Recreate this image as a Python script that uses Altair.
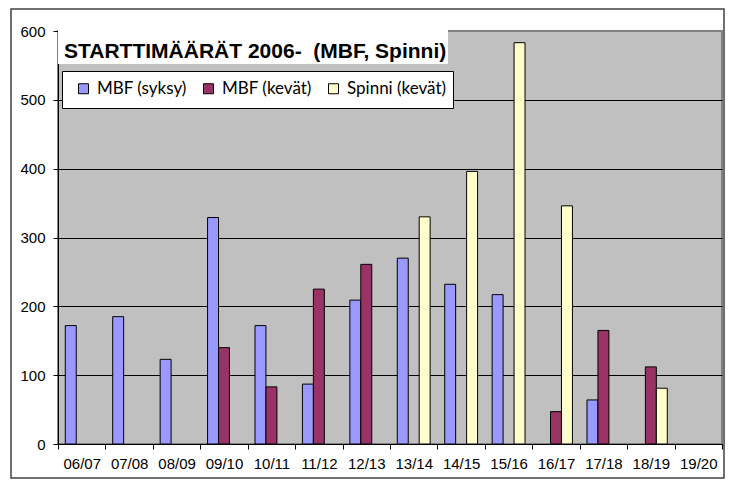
import altair as alt
import pandas as pd

categories = ["06/07", "07/08", "08/09", "09/10", "10/11", "11/12", "12/13",
              "13/14", "14/15", "15/16", "16/17", "17/18", "18/19", "19/20"]
syksy = [172, 185, 123, 329, 172, 87, 209, 270, 232, 217, None, 64, None, None]
kevat = [None, None, None, 140, 83, 225, 261, None, None, None, 47, 165, 112, None]
spinni = [None, None, None, None, None, None, None, 330, 396, 583, 346, None, 81, None]
series_names = ["MBF (syksy)", "MBF (kevät)", "Spinni (kevät)"]
series_colors = ["#9999FF", "#993366", "#FFFFCC"]
y_ticks = [0, 100, 200, 300, 400, 500, 600]
title_text = "STARTTIMÄÄRÄT 2006-\u00a0 (MBF, Spinni)"

rows = []
for name, vals in zip(series_names, [syksy, kevat, spinni]):
    for c, v in zip(categories, vals):
        if v is not None:
            rows.append({"kausi": c, "sarja": name, "arvo": v})
df = pd.DataFrame(rows)

W, H = 664, 413
FONT = "Liberation Sans, Arial, sans-serif"

bars = alt.Chart(df).mark_bar(stroke="black", strokeWidth=1).encode(
    x=alt.X("kausi:N", sort=categories,
            scale=alt.Scale(domain=categories, paddingInner=0, paddingOuter=0),
            axis=alt.Axis(title=None, labelAngle=0, tickBand="extent", tickSize=5,
                          tickColor="black", domainColor="black", labelFont=FONT,
                          labelFontSize=15, labelColor="black", labelPadding=7,
                          grid=False)),
    xOffset=alt.XOffset("sarja:N", sort=series_names,
                        scale=alt.Scale(domain=series_names, paddingInner=0, paddingOuter=0.665)),
    y=alt.Y("arvo:Q", scale=alt.Scale(domain=[0, 600], nice=False),
            axis=alt.Axis(title=None, values=y_ticks, tickSize=5, tickColor="black",
                          domainColor="black", labelFont=FONT, labelFontSize=15,
                          labelColor="black", labelPadding=8, grid=True,
                          gridColor={"condition": {"test": "datum.value === 600", "value": "#808080"},
                                     "value": "black"},
                          gridWidth=1)),
    color=alt.Color("sarja:N", sort=series_names,
                    scale=alt.Scale(domain=series_names, range=series_colors),
                    legend=alt.Legend(title=None, orient="none", legendX=17, legendY=49,
                                      direction="horizontal", symbolType="square",
                                      symbolSize=100, symbolStrokeColor="black",
                                      symbolStrokeWidth=1, symbolOpacity=1,
                                      labelFont="Lato", labelFontSize=17, labelColor="black",
                                      labelOffset=5, columnPadding=13, padding=0)),
)

one = alt.Data(values=[{}])

title_bg = alt.Chart(one).mark_rect(fill="white", stroke=None).encode(
    x=alt.value(0), x2=alt.value(390), y=alt.value(-1), y2=alt.value(33))

legend_box = alt.Chart(one).mark_rect(fill="white", stroke="black", strokeWidth=1).encode(
    x=alt.value(4.5), x2=alt.value(395.5), y=alt.value(40.5), y2=alt.value(77.5))

title = alt.Chart(one).mark_text(text=title_text, font=FONT, fontSize=21, fontWeight="bold",
                                 align="left", baseline="alphabetic", color="black").encode(
    x=alt.value(6), y=alt.value(27))

frame = alt.Chart(one).mark_rect(filled=False, stroke="#404040", strokeWidth=1.5).encode(
    x=alt.value(-47), x2=alt.value(666), y=alt.value(-22), y2=alt.value(447))

chart = alt.layer(bars, title_bg, legend_box, title, frame).properties(
    width=W, height=H,
    autosize=alt.AutoSizeParams(type="none"),
    padding={"left": 50, "top": 23, "right": 4, "bottom": 37},
    background="white",
).configure_view(fill="#C0C0C0", stroke="#808080", strokeWidth=2)

chart.save("out.html", embed_options={"renderer": "svg", "actions": False})
